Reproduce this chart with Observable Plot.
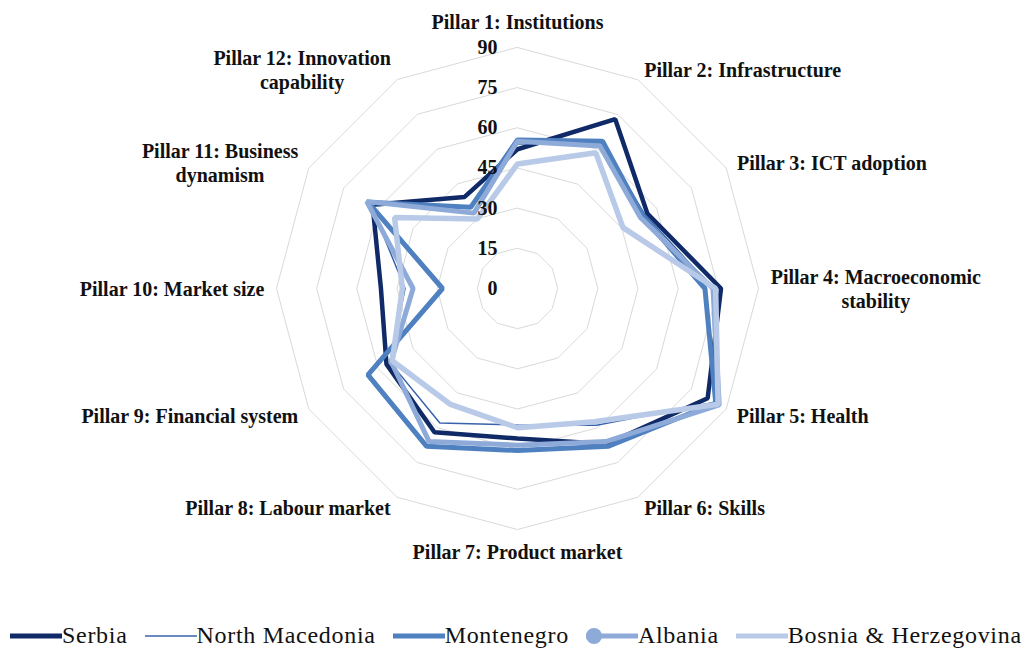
<!DOCTYPE html>
<html>
<head>
<meta charset="utf-8">
<script src="https://cdn.jsdelivr.net/npm/d3@7"></script>
<script src="https://cdn.jsdelivr.net/npm/@observablehq/plot@0.6"></script>
<style>
  html, body { margin: 0; padding: 0; background: #ffffff; }
  #chart { width: 1031px; }
  #legend { position: relative; width: 1031px; height: 35px; display: flex; align-items: center; padding-left: 10px; padding-top: 6px; box-sizing: border-box;
    font-family: "Liberation Serif", "Times New Roman", serif; font-size: 24px; letter-spacing: 0.7px; color: #111; }
  .item { display: flex; align-items: center; margin-right: 17px; white-space: nowrap; }
  .item:last-child { margin-right: 0; }
  .item svg { display: block; }
</style>
</head>
<body>
<div id="chart"></div>
<div id="legend"></div>
<script>
// ---- data ----
const pillars = [
  "Pillar 1: Institutions",
  "Pillar 2: Infrastructure",
  "Pillar 3: ICT adoption",
  "Pillar 4: Macroeconomic\nstability",
  "Pillar 5: Health",
  "Pillar 6: Skills",
  "Pillar 7: Product market",
  "Pillar 8: Labour market",
  "Pillar 9: Financial system",
  "Pillar 10: Market size",
  "Pillar 11: Business\ndynamism",
  "Pillar 12: Innovation\ncapability"
];
const countries = ["Serbia", "North Macedonia", "Montenegro", "Albania", "Bosnia & Herzegovina"];
const serbia          = [52.0, 73.0, 56.0, 76.0, 82.0, 67.0, 56.0, 62.0, 56.5, 51.0, 62.5, 39.5];
const northMacedonia  = [54.0, 63.0, 55.0, 73.0, 85.0, 59.0, 51.0, 58.0, 55.0, 42.0, 63.5, 33.0];
const montenegro      = [55.5, 63.5, 54.0, 70.0, 85.5, 68.0, 60.5, 68.0, 64.5, 28.0, 64.5, 35.0];
const albania         = [55.0, 61.5, 53.0, 73.0, 87.0, 66.0, 58.5, 66.0, 54.5, 39.0, 65.0, 32.5];
const bosnia          = [46.5, 58.5, 45.5, 74.0, 86.5, 57.5, 52.0, 50.0, 54.0, 43.0, 53.0, 30.0];
const seriesValues = [serbia, northMacedonia, montenegro, albania, bosnia];
const tickValues = [0, 15, 30, 45, 60, 75, 90];

// ---- styling ----
const colors = ["#0f2a66", "#3862a9", "#4f80c0", "#8eaad8", "#b8cae8"];
const widths = [4.5, 1.5, 5, 5, 5.5];
const labelFont = "bold 20px 'Liberation Serif'";

const n = pillars.length;
const ang = i => (i / n) * 2 * Math.PI;
const polar = (v, i) => ({x: v * Math.sin(ang(i)), y: v * Math.cos(ang(i))});

const rows = [];
countries.forEach((c, k) => seriesValues[k].forEach((v, i) => rows.push({country: c, pillar: pillars[i], value: v, ...polar(v, i)})));

const rings = [];
tickValues.filter(t => t > 0).forEach(t => pillars.forEach((p, i) => rings.push({ring: t, ...polar(t, i)})));

const tickRows = tickValues.map(t => ({t, x: 0, y: t}));

// measure label widths
const ctx = document.createElement("canvas").getContext("2d");
ctx.font = labelFont;

const W = 1031, H = 615;
const cx = 517, cy = 288, R = 241;
const margins = {marginLeft: cx - R, marginRight: W - cx - R, marginTop: cy - R, marginBottom: H - cy - R};
const labelR = 90 * 253 / R;

const labelMarks = pillars.map((p, i) => {
  const s = Math.sin(ang(i)), c = Math.cos(ang(i));
  const w = d3.max(p.split("\n"), l => ctx.measureText(l).width);
  const side = s > 0.1 ? 1 : s < -0.1 ? -1 : 0;
  const vert = c > 0.95 ? -14 : c < -0.95 ? 10 : 0;
  return Plot.text([{p, ...polar(labelR, i)}], {
    x: "x", y: "y", text: "p",
    textAnchor: "middle",
    dx: side * w / 2,
    dy: vert,
    fontFamily: "Liberation Serif", fontWeight: "bold", fontSize: 20, fill: "#111",
    lineHeight: 1.2
  });
});

const chart = Plot.plot({
  width: W, height: H, ...margins,
  x: {domain: [-90, 90], axis: null},
  y: {domain: [-90, 90], axis: null},
  marks: [
    Plot.line(rings, {x: "x", y: "y", z: "ring", curve: "linear-closed", stroke: "#d9d9d9", strokeWidth: 1}),
    ...countries.map((c, k) => Plot.line(rows.filter(r => r.country === c), {
      x: "x", y: "y", curve: "linear-closed", stroke: colors[k], strokeWidth: widths[k], strokeLinejoin: "miter"
    })),
    Plot.text(tickRows, {x: "x", y: "y", text: d => String(d.t), textAnchor: "end", dx: -20,
      fontFamily: "Liberation Serif", fontWeight: "bold", fontSize: 20, fill: "#111"}),
    ...labelMarks
  ]
});
document.getElementById("chart").append(chart);

// ---- legend ----
const legend = d3.select("#legend");
countries.forEach((c, k) => {
  const item = legend.append("div").attr("class", "item");
  const svg = item.append("svg").attr("width", 52).attr("height", 24);
  svg.append("line").attr("x1", 0).attr("x2", 52).attr("y1", 12).attr("y2", 12)
    .attr("stroke", colors[k]).attr("stroke-width", k === 1 ? 1.5 : 5);
  if (c === "Albania") svg.append("circle").attr("cx", 8).attr("cy", 12).attr("r", 8).attr("fill", colors[k]);
  item.append("span").text(c);
});
</script>
</body>
</html>
